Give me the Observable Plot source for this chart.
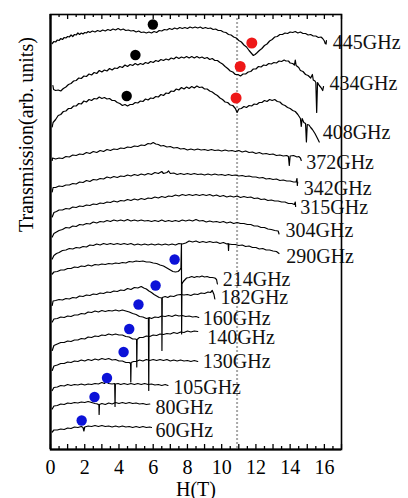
<!DOCTYPE html>
<html>
<head>
<meta charset="utf-8">
<script src="https://cdn.jsdelivr.net/npm/d3@7"></script>
<script src="https://cdn.jsdelivr.net/npm/@observablehq/plot@0.6"></script>
<style>
  html, body { margin: 0; padding: 0; background: #fff; }
  #chart { width: 408px; height: 498px; }
</style>
</head>
<body>
<div id="chart"></div>
<script>
// Transmission spectra (offset for clarity) vs magnetic field H (T), one trace per frequency.
const freqs = [445, 434, 408, 372, 342, 315, 304, 290, 214, 182, 160, 140, 130, 105, 80, 60];

const t445 = [[0.1,40.6],[0.2,40.8],[0.3,40.75],[0.4,40.95],[0.5,40.9],[0.6,41.1],[0.7,41.0],[0.8,41.2],[0.9,41.15],[1.0,41.3],[1.1,41.25],[1.2,41.45],[1.3,41.3],[1.4,41.5],[1.5,41.45],[1.6,41.65],[1.7,41.5],[1.8,41.65],[1.9,41.55],[2.0,41.7],[2.1,41.65],[2.2,41.8],[2.3,41.7],[2.45,41.85],[2.6,41.75],[2.75,41.9],[2.9,41.8],[3.05,41.95],[3.2,41.85],[3.35,42.0],[3.5,41.9],[3.65,42.05],[3.8,41.95],[3.95,42.1],[4.1,41.95],[4.25,42.05],[4.4,41.9],[4.55,41.95],[4.7,41.85],[4.85,41.9],[5.0,41.75],[5.15,41.85],[5.3,41.7],[5.45,41.75],[5.6,41.65],[5.75,41.75],[5.9,41.65],[6.05,41.8],[6.2,41.7],[6.35,41.9],[6.5,41.85],[6.65,42.0],[6.8,41.95],[6.95,42.1],[7.1,42.0],[7.25,42.15],[7.4,42.05],[7.55,42.2],[7.7,42.1],[7.85,42.2],[8.0,42.1],[8.15,42.25],[8.3,42.15],[8.45,42.25],[8.6,42.15],[8.75,42.25],[8.9,42.1],[9.05,42.2],[9.2,42.1],[9.35,42.15],[9.5,42.0],[9.65,42.05],[9.8,41.9],[9.95,41.9],[10.1,41.75],[10.25,41.7],[10.4,41.5],[10.55,41.45],[10.7,41.25],[10.85,41.15],[11.0,40.9],[11.15,40.75],[11.3,40.45],[11.45,40.25],[11.6,39.9],[11.75,39.6],[11.85,39.4],[11.95,39.5],[12.05,39.65],[12.2,39.9],[12.35,40.1],[12.5,40.4],[12.65,40.55],[12.8,40.85],[12.95,41.0],[13.1,41.25],[13.25,41.3],[13.4,41.5],[13.55,41.5],[13.7,41.65],[13.85,41.6],[14.0,41.75],[14.15,41.7],[14.3,41.8],[14.45,41.65],[14.6,41.75],[14.75,41.6],[14.9,41.6],[15.05,41.45],[15.2,41.5],[15.35,41.35],[15.5,41.35],[15.65,41.2],[15.8,41.25],[15.9,41.1],[16.0,40.85],[16.05,40.6],[16.1,40.55],[16.12,40.9]];
const t434 = [[0.14,36.4],[0.18,36.0],[0.3,35.9],[0.45,35.95],[0.6,35.85],[0.75,36.1],[0.9,36.25],[1.05,36.5],[1.2,36.6],[1.35,36.85],[1.5,36.9],[1.65,37.15],[1.8,37.1],[1.95,37.35],[2.1,37.3],[2.25,37.55],[2.4,37.45],[2.55,37.7],[2.7,37.6],[2.85,37.9],[3.0,37.75],[3.15,37.95],[3.3,37.85],[3.45,38.1],[3.6,37.95],[3.75,38.15],[3.9,38.1],[4.05,38.3],[4.2,38.2],[4.35,38.45],[4.5,38.3],[4.65,38.5],[4.8,38.4],[4.95,38.6],[5.1,38.45],[5.25,38.6],[5.4,38.5],[5.55,38.7],[5.7,38.6],[5.85,38.8],[6.0,38.7],[6.15,38.9],[6.3,38.8],[6.45,39.0],[6.6,38.9],[6.75,39.05],[6.9,38.95],[7.05,39.15],[7.2,39.05],[7.35,39.25],[7.5,39.1],[7.65,39.25],[7.8,39.15],[7.95,39.3],[8.1,39.15],[8.25,39.3],[8.4,39.15],[8.55,39.3],[8.7,39.15],[8.85,39.25],[9.0,39.1],[9.15,39.2],[9.3,39.0],[9.45,39.1],[9.6,38.9],[9.75,38.9],[9.9,38.7],[10.05,38.55],[10.2,38.3],[10.35,38.1],[10.5,37.85],[10.65,37.75],[10.8,37.5],[10.95,37.5],[11.1,37.35],[11.25,37.55],[11.4,37.55],[11.55,37.75],[11.7,37.8],[11.85,38.05],[12.0,38.05],[12.15,38.3],[12.3,38.25],[12.45,38.45],[12.6,38.4],[12.75,38.6],[12.9,38.55],[13.05,38.7],[13.2,38.65],[13.35,38.85],[13.5,38.8],[13.65,38.95],[13.75,38.85],[13.9,38.85],[14.0,38.65],[14.15,38.6],[14.25,38.45],[14.3,38.95],[14.35,38.4],[14.5,38.2],[14.6,37.9],[14.75,37.8],[14.9,37.5],[15.05,37.4],[15.2,37.15],[15.3,37.5],[15.35,36.95],[15.45,36.85],[15.5,36.7],[15.55,33.7],[15.6,36.7],[15.7,36.4],[15.8,36.2],[15.9,35.9],[15.95,36.3]];
const t408 = [[0.1,32.25],[0.15,32.7],[0.3,33.0],[0.45,33.4],[0.6,33.5],[0.75,33.8],[0.9,33.85],[1.05,34.1],[1.2,34.1],[1.35,34.35],[1.5,34.35],[1.65,34.6],[1.8,34.55],[1.95,34.85],[2.1,34.75],[2.25,35.0],[2.4,34.9],[2.55,35.1],[2.7,35.05],[2.85,35.25],[3.0,35.1],[3.15,35.2],[3.3,35.05],[3.45,35.1],[3.6,34.9],[3.75,34.9],[3.9,34.7],[4.05,34.6],[4.2,34.4],[4.35,34.5],[4.5,34.35],[4.65,34.5],[4.8,34.5],[4.95,34.7],[5.1,34.65],[5.25,34.85],[5.4,34.8],[5.55,35.05],[5.7,34.95],[5.85,35.15],[6.0,35.1],[6.15,35.3],[6.3,35.25],[6.45,35.5],[6.6,35.4],[6.75,35.65],[6.9,35.6],[7.05,35.85],[7.2,35.8],[7.35,36.05],[7.5,35.95],[7.65,36.2],[7.8,36.05],[7.95,36.25],[8.1,36.1],[8.25,36.3],[8.4,36.15],[8.55,36.35],[8.7,36.2],[8.85,36.25],[9.0,36.05],[9.15,36.05],[9.3,35.85],[9.45,35.75],[9.6,35.55],[9.75,35.4],[9.9,35.15],[10.05,35.0],[10.2,34.75],[10.35,34.7],[10.5,34.45],[10.65,34.4],[10.8,34.1],[10.9,33.7],[11.0,34.05],[11.15,34.1],[11.3,34.3],[11.45,34.2],[11.6,34.4],[11.75,34.35],[11.9,34.55],[12.05,34.5],[12.2,34.7],[12.35,34.7],[12.5,34.9],[12.65,34.8],[12.8,35.0],[12.95,34.9],[13.1,35.0],[13.25,34.8],[13.4,34.75],[13.55,34.5],[13.7,34.4],[13.85,34.2],[14.0,34.1],[14.15,33.9],[14.3,33.8],[14.45,33.5],[14.6,33.1],[14.65,32.3],[14.7,33.1],[14.8,32.7],[14.9,32.6],[14.95,30.75],[15.0,32.5],[15.1,32.45],[15.2,32.2],[15.3,32.0],[15.45,31.6],[15.6,31.1],[15.7,30.75]];
const t372 = [[0.1,28.9],[0.12,29.15],[0.3,29.05],[0.5,29.15],[0.7,29.1],[0.9,29.3],[1.1,29.25],[1.3,29.45],[1.5,29.4],[1.7,29.55],[1.9,29.5],[2.1,29.7],[2.3,29.6],[2.5,29.8],[2.7,29.7],[2.9,29.9],[3.1,29.8],[3.3,30.0],[3.5,29.9],[3.7,30.05],[3.9,30.0],[4.1,30.15],[4.3,30.1],[4.5,30.25],[4.7,30.2],[4.9,30.35],[5.1,30.3],[5.3,30.45],[5.5,30.4],[5.7,30.6],[5.85,30.55],[6.0,30.7],[6.15,30.55],[6.3,30.5],[6.45,30.35],[6.6,30.4],[6.8,30.25],[7.0,30.3],[7.2,30.15],[7.4,30.2],[7.6,30.05],[7.8,30.1],[8.0,29.95],[8.2,30.05],[8.4,29.95],[8.6,30.05],[8.8,29.95],[9.0,30.0],[9.2,29.9],[9.4,30.0],[9.6,29.9],[9.8,29.95],[10.0,29.85],[10.2,29.95],[10.4,29.85],[10.6,29.9],[10.8,29.8],[11.0,29.9],[11.2,29.75],[11.4,29.85],[11.6,29.7],[11.8,29.75],[12.0,29.6],[12.2,29.7],[12.4,29.55],[12.6,29.6],[12.8,29.5],[13.0,29.55],[13.2,29.4],[13.4,29.45],[13.6,29.35],[13.8,29.4],[13.9,29.3],[13.95,28.4],[14.0,29.35],[14.2,29.4],[14.4,29.25],[14.5,29.3],[14.6,29.15],[14.65,28.9]];
const t342 = [[0.1,25.75],[0.15,26.2],[0.3,26.2],[0.5,26.35],[0.7,26.3],[0.9,26.45],[1.1,26.45],[1.3,26.6],[1.5,26.55],[1.7,26.75],[1.9,26.7],[2.1,26.9],[2.3,26.8],[2.5,27.0],[2.7,26.95],[2.9,27.1],[3.1,27.05],[3.3,27.25],[3.5,27.15],[3.7,27.3],[3.9,27.2],[4.1,27.35],[4.3,27.3],[4.5,27.45],[4.7,27.35],[4.9,27.5],[5.1,27.4],[5.3,27.55],[5.5,27.45],[5.7,27.6],[5.9,27.5],[6.1,27.7],[6.3,27.6],[6.5,27.8],[6.6,27.6],[6.8,27.7],[6.9,27.85],[7.0,27.6],[7.2,27.65],[7.4,27.5],[7.6,27.6],[7.8,27.5],[8.0,27.6],[8.2,27.5],[8.4,27.6],[8.6,27.5],[8.8,27.55],[9.0,27.45],[9.2,27.55],[9.4,27.45],[9.6,27.55],[9.8,27.45],[10.0,27.5],[10.2,27.4],[10.4,27.5],[10.6,27.4],[10.8,27.45],[11.0,27.35],[11.2,27.4],[11.4,27.3],[11.6,27.35],[11.8,27.25],[12.0,27.25],[12.2,27.15],[12.4,27.2],[12.6,27.05],[12.8,27.1],[13.0,27.0],[13.2,27.05],[13.4,26.9],[13.6,26.95],[13.8,26.85],[14.0,26.85],[14.2,26.75],[14.35,26.75],[14.4,27.1],[14.42,26.4],[14.44,26.75]];
const t315 = [[0.1,23.25],[0.2,23.7],[0.35,23.8],[0.5,23.95],[0.7,23.95],[0.9,24.1],[1.1,24.05],[1.3,24.25],[1.5,24.2],[1.7,24.35],[1.9,24.3],[2.1,24.45],[2.3,24.4],[2.5,24.55],[2.7,24.5],[2.9,24.65],[3.1,24.6],[3.3,24.75],[3.5,24.7],[3.7,24.85],[3.9,24.75],[4.1,24.9],[4.3,24.85],[4.5,25.0],[4.7,24.9],[4.9,25.05],[5.1,24.95],[5.3,25.1],[5.5,25.0],[5.7,25.15],[5.9,25.1],[6.1,25.25],[6.3,25.15],[6.5,25.3],[6.7,25.2],[6.9,25.35],[7.1,25.3],[7.3,25.45],[7.5,25.35],[7.7,25.5],[7.9,25.4],[8.1,25.5],[8.3,25.4],[8.5,25.5],[8.7,25.4],[8.9,25.5],[9.1,25.4],[9.3,25.5],[9.5,25.35],[9.7,25.45],[9.9,25.3],[10.1,25.4],[10.3,25.25],[10.5,25.35],[10.7,25.25],[10.9,25.35],[11.1,25.2],[11.3,25.3],[11.5,25.2],[11.7,25.25],[11.9,25.1],[12.1,25.15],[12.3,25.0],[12.5,25.05],[12.7,24.9],[12.9,24.95],[13.1,24.85],[13.3,24.85],[13.5,24.75],[13.7,24.75],[13.9,24.6],[14.1,24.6],[14.25,24.5],[14.3,24.75],[14.32,24.3]];
const t304 = [[0.1,21.25],[0.2,21.6],[0.35,21.75],[0.5,21.9],[0.7,22.0],[0.9,22.2],[1.1,22.15],[1.3,22.35],[1.5,22.3],[1.7,22.5],[1.9,22.45],[2.1,22.6],[2.3,22.55],[2.5,22.75],[2.7,22.65],[2.9,22.8],[3.1,22.75],[3.3,22.9],[3.5,22.8],[3.7,22.95],[3.9,22.85],[4.1,22.95],[4.3,22.85],[4.5,23.0],[4.7,22.85],[4.9,22.95],[5.1,22.85],[5.3,22.95],[5.5,22.85],[5.7,22.9],[5.9,22.8],[6.1,22.9],[6.3,22.8],[6.5,22.95],[6.7,22.8],[6.9,22.9],[7.1,22.8],[7.3,22.9],[7.5,22.8],[7.7,22.95],[7.9,22.85],[8.1,22.95],[8.3,22.85],[8.5,23.0],[8.7,22.85],[8.9,22.9],[9.1,22.75],[9.3,22.85],[9.5,22.75],[9.7,22.8],[9.9,22.7],[10.1,22.8],[10.3,22.65],[10.5,22.75],[10.7,22.6],[10.9,22.7],[11.1,22.6],[11.3,22.6],[11.5,22.5],[11.7,22.5],[11.9,22.35],[12.1,22.35],[12.3,22.2],[12.5,22.2],[12.7,22.05],[12.9,22.0],[13.1,21.9],[13.3,21.85],[13.35,21.55]];
const t290 = [[0.1,19.05],[0.2,19.4],[0.35,19.6],[0.5,19.7],[0.7,19.9],[0.9,19.95],[1.1,20.1],[1.3,20.05],[1.5,20.2],[1.7,20.15],[1.9,20.3],[2.1,20.25],[2.3,20.45],[2.5,20.4],[2.7,20.55],[2.9,20.45],[3.1,20.6],[3.3,20.5],[3.5,20.6],[3.7,20.5],[3.9,20.6],[4.1,20.5],[4.3,20.6],[4.5,20.5],[4.7,20.6],[4.9,20.45],[5.1,20.55],[5.3,20.45],[5.5,20.55],[5.7,20.45],[5.9,20.55],[6.1,20.45],[6.3,20.55],[6.5,20.45],[6.7,20.55],[6.9,20.45],[7.1,20.55],[7.3,20.45],[7.5,20.6],[7.7,20.55],[7.9,20.65],[8.1,20.85],[8.3,20.75],[8.5,20.85],[8.7,20.7],[8.9,20.8],[9.1,20.7],[9.3,20.8],[9.5,20.7],[9.7,20.75],[9.9,20.6],[10.1,20.7],[10.3,20.55],[10.38,20.6],[10.4,19.9],[10.42,20.55],[10.6,20.5],[10.8,20.5],[11.0,20.4],[11.2,20.45],[11.4,20.3],[11.6,20.35],[11.8,20.2],[12.0,20.2],[12.2,20.05],[12.4,20.1],[12.6,19.95],[12.8,19.95],[13.0,19.85],[13.2,19.8],[13.35,19.6]];
const t214 = [[0.1,17.55],[0.2,17.75],[0.4,17.8],[0.6,17.95],[0.8,17.95],[1.0,18.1],[1.2,18.1],[1.4,18.25],[1.6,18.2],[1.8,18.35],[2.0,18.3],[2.2,18.45],[2.4,18.35],[2.6,18.5],[2.8,18.45],[3.0,18.55],[3.2,18.5],[3.4,18.6],[3.6,18.55],[3.8,18.65],[4.0,18.6],[4.2,18.7],[4.4,18.65],[4.6,18.8],[4.8,18.75],[5.0,18.85],[5.2,18.8],[5.4,18.85],[5.6,18.75],[5.8,18.75],[6.0,18.65],[6.2,18.6],[6.4,18.45],[6.6,18.35],[6.8,18.15],[7.0,17.95],[7.15,17.8],[7.3,17.75],[7.45,17.8],[7.55,17.95],[7.62,18.15],[7.65,20.55],[7.66,11.55],[7.68,16.55],[7.76,16.8],[7.84,16.95],[7.95,17.15],[8.1,17.2],[8.25,17.3],[8.4,17.2],[8.55,17.3],[8.7,17.25],[8.85,17.35],[9.0,17.25],[9.15,17.3],[9.3,17.2],[9.45,17.2],[9.6,17.15],[9.7,17.0],[9.75,16.55]];
const t182 = [[0.1,14.4],[0.15,14.85],[0.3,14.9],[0.5,15.0],[0.7,14.95],[0.9,15.1],[1.1,15.05],[1.3,15.2],[1.5,15.15],[1.7,15.35],[1.9,15.3],[2.1,15.45],[2.3,15.4],[2.5,15.55],[2.7,15.5],[2.9,15.65],[3.1,15.6],[3.3,15.75],[3.5,15.7],[3.7,15.85],[3.9,15.8],[4.1,15.95],[4.3,15.9],[4.5,16.1],[4.7,16.0],[4.9,16.2],[5.1,16.15],[5.3,16.3],[5.45,16.15],[5.6,16.05],[5.75,15.85],[5.9,15.7],[6.05,15.5],[6.2,15.35],[6.35,15.2],[6.5,15.15],[6.51,9.9],[6.53,15.2],[6.7,15.3],[6.85,15.2],[7.0,15.35],[7.2,15.3],[7.4,15.45],[7.6,15.5],[7.8,15.45],[8.0,15.5],[8.2,15.4],[8.4,15.55],[8.6,15.5],[8.8,15.65],[9.0,15.6],[9.2,15.75],[9.35,15.7],[9.45,15.9],[9.55,15.5],[9.6,15.05]];
const t160 = [[0.1,12.75],[0.2,13.05],[0.4,13.1],[0.6,13.25],[0.8,13.2],[1.0,13.35],[1.2,13.3],[1.4,13.45],[1.6,13.45],[1.8,13.6],[2.0,13.55],[2.2,13.75],[2.4,13.7],[2.6,13.85],[2.8,13.75],[3.0,13.9],[3.2,13.8],[3.4,13.9],[3.6,13.85],[3.8,13.95],[4.0,13.85],[4.2,13.95],[4.4,13.85],[4.6,13.75],[4.8,13.6],[5.0,13.5],[5.2,13.3],[5.4,13.25],[5.6,13.1],[5.72,13.15],[5.74,5.9],[5.76,13.2],[5.9,13.1],[6.1,13.25],[6.3,13.2],[6.5,13.35],[6.7,13.3],[6.9,13.4],[7.1,13.3],[7.3,13.45],[7.5,13.35],[7.7,13.4],[7.9,13.3],[8.1,13.35],[8.3,13.25],[8.5,13.3],[8.66,13.2]];
const t140 = [[0.1,9.9],[0.2,10.4],[0.4,10.55],[0.6,10.7],[0.8,10.7],[1.0,10.85],[1.2,10.8],[1.4,10.95],[1.6,10.95],[1.8,11.1],[2.0,11.05],[2.2,11.25],[2.4,11.2],[2.6,11.35],[2.8,11.3],[3.0,11.45],[3.2,11.4],[3.4,11.55],[3.6,11.45],[3.8,11.55],[4.0,11.45],[4.2,11.45],[4.4,11.3],[4.6,11.25],[4.8,11.05],[4.95,11.05],[5.03,11.0],[5.04,8.25],[5.06,11.0],[5.2,11.2],[5.4,11.2],[5.6,11.35],[5.8,11.3],[6.0,11.45],[6.2,11.4],[6.4,11.55],[6.6,11.5],[6.8,11.6],[7.0,11.55],[7.2,11.7],[7.4,11.6],[7.6,11.75],[7.8,11.7],[8.0,11.85],[8.2,11.75],[8.4,11.85],[8.6,11.8]];
const t130 = [[0.1,7.9],[0.2,8.35],[0.4,8.45],[0.6,8.6],[0.8,8.6],[1.0,8.75],[1.2,8.7],[1.4,8.85],[1.6,8.8],[1.8,8.95],[2.0,8.85],[2.2,9.0],[2.4,8.9],[2.6,9.05],[2.8,8.95],[3.0,9.1],[3.2,9.0],[3.4,9.1],[3.6,8.95],[3.8,9.0],[4.0,8.85],[4.2,8.85],[4.4,8.7],[4.6,8.7],[4.68,8.6],[4.69,6.75],[4.71,8.7],[4.85,8.8],[5.0,8.8],[5.2,8.95],[5.4,8.85],[5.6,9.0],[5.8,8.9],[6.0,9.0],[6.2,8.9],[6.4,9.0],[6.6,8.9],[6.8,9.0],[7.0,8.85],[7.2,8.95],[7.4,8.85],[7.6,8.95],[7.8,8.85],[8.0,8.9],[8.2,8.8],[8.4,8.9],[8.6,8.8]];
const t105 = [[0.1,5.9],[0.2,6.2],[0.4,6.25],[0.6,6.4],[0.8,6.35],[1.0,6.5],[1.2,6.4],[1.4,6.5],[1.6,6.45],[1.8,6.55],[2.0,6.45],[2.2,6.55],[2.4,6.5],[2.6,6.6],[2.8,6.55],[3.0,6.7],[3.15,6.6],[3.25,6.8],[3.4,6.6],[3.6,6.55],[3.75,6.6],[3.77,4.3],[3.79,6.55],[3.95,6.6],[4.1,6.5],[4.3,6.6],[4.5,6.5],[4.7,6.6],[4.9,6.5],[5.1,6.6],[5.3,6.5],[5.5,6.6],[5.7,6.5],[5.9,6.55],[6.1,6.45],[6.3,6.5],[6.5,6.4],[6.7,6.5],[6.86,6.4]];
const t80 = [[0.1,4.05],[0.2,4.35],[0.4,4.4],[0.6,4.55],[0.8,4.5],[1.0,4.65],[1.2,4.6],[1.4,4.7],[1.6,4.65],[1.8,4.75],[2.0,4.7],[2.2,4.8],[2.4,4.7],[2.6,4.6],[2.75,4.55],[2.83,4.45],[2.84,3.5],[2.86,4.5],[3.0,4.6],[3.2,4.5],[3.4,4.65],[3.6,4.55],[3.8,4.7],[4.0,4.6],[4.2,4.7],[4.4,4.6],[4.6,4.7],[4.8,4.6],[5.0,4.65],[5.2,4.55],[5.4,4.6],[5.6,4.5],[5.8,4.55]];
const t60 = [[0.1,1.75],[0.2,1.95],[0.4,1.95],[0.6,2.05],[0.8,2.0],[1.0,2.15],[1.2,2.1],[1.4,2.25],[1.6,2.2],[1.8,2.3],[1.9,2.2],[1.95,1.85],[2.0,2.25],[2.2,2.35],[2.4,2.3],[2.6,2.4],[2.8,2.3],[3.0,2.4],[3.2,2.3],[3.4,2.35],[3.6,2.25],[3.8,2.35],[4.0,2.25],[4.2,2.35],[4.4,2.25],[4.6,2.3],[4.8,2.2],[5.0,2.3],[5.2,2.2],[5.4,2.3],[5.6,2.2],[5.8,2.25],[5.9,2.2]];

const traces = [t445, t434, t408, t372, t342, t315, t304, t290, t214, t182, t160, t140, t130, t105, t80, t60];

// frequency label anchor points [H, T]
const labelPos = [[16.49,40.67],[16.3,36.57],[15.9,31.73],[14.94,28.73],[14.8,26.07],[14.59,24.17],[13.73,21.9],[13.77,19.3],[10.06,16.97],[9.93,15.23],[8.9,13.1],[9.15,11.23],[8.9,8.8],[7.17,6.23],[6.13,4.23],[6.13,1.9]];

// marked features [H, T]
const blackDots = [[5.98,42.5],[4.96,39.45],[4.45,35.35]];
const redDots = [[11.76,40.65],[11.08,38.3],[10.84,35.15]];
const blueDots = [[7.25,19.0],[6.14,16.4],[5.14,14.5],[4.6,12.05],[4.27,9.75],[3.3,7.15],[2.57,5.25],[1.82,2.9]];

const xTicks = [0, 2, 4, 6, 8, 10, 12, 14, 16];
const refField = 10.9;

const lineData = traces.flatMap((t, i) => t.map(([H, T]) => ({f: freqs[i], H, T})));
const labels = labelPos.map(([H, T], i) => ({H, T, text: freqs[i] + "GHz"}));
const toPts = a => a.map(([H, T]) => ({H, T}));

const intTicks = d3.range(0, 17.01, 1);
const halfTicks = d3.range(0.5, 17, 1);

const W = 408, Hgt = 498, mT = 14, mB = 49;
const inner = Hgt - mT - mB;

const chart = Plot.plot({
  width: W,
  height: Hgt,
  marginLeft: 50,
  marginRight: 67,
  marginTop: mT,
  marginBottom: mB,
  style: {fontFamily: "'Liberation Serif', 'Times New Roman', serif", fontSize: "20px", background: "#fff", color: "#000", overflow: "visible"},
  x: {domain: [0, 17], ticks: xTicks, tickSize: 0, tickPadding: 10, label: null},
  y: {domain: [0, 43.5], axis: null},
  marks: [
    Plot.ruleX([refField], {stroke: "#a8a8a8", strokeWidth: 2, strokeDasharray: "2,2", insetTop: 4}),
    Plot.line(lineData, {x: "H", y: "T", z: "f", stroke: "#000", strokeWidth: 1.2, curve: "linear"}),
    Plot.dot(toPts(blackDots), {x: "H", y: "T", r: 5.2, fill: "#000", stroke: "none"}),
    Plot.dot(toPts(redDots), {x: "H", y: "T", r: 5.5, fill: "#ee1818", stroke: "none"}),
    Plot.dot(toPts(blueDots), {x: "H", y: "T", r: 5.2, fill: "#0c12d8", stroke: "none"}),
    Plot.text(labels, {x: "H", y: "T", text: "text", textAnchor: "start", lineAnchor: "middle", fontSize: 20, fill: "#111"}),
    // inward ticks on bottom and top edges
    Plot.ruleX(intTicks, {strokeWidth: 1.3, insetTop: inner - 5}),
    Plot.ruleX(halfTicks, {strokeWidth: 1.3, insetTop: inner - 3}),
    Plot.ruleX(intTicks, {strokeWidth: 1.3, insetBottom: inner - 5}),
    Plot.ruleX(halfTicks, {strokeWidth: 1.3, insetBottom: inner - 3}),
    Plot.frame({stroke: "#000", strokeWidth: 1.6}),
    Plot.ruleX([0], {strokeWidth: 2.2}),
    Plot.ruleY([0], {strokeWidth: 2.2}),
    Plot.text(["H(T)"], {frameAnchor: "bottom", dy: 46, fontSize: 20}),
    Plot.text(["Transmission(arb. units)"], {frameAnchor: "left", rotate: -90, dx: -24, fontSize: 20})
  ]
});
document.getElementById("chart").appendChild(chart);
</script>
</body>
</html>
